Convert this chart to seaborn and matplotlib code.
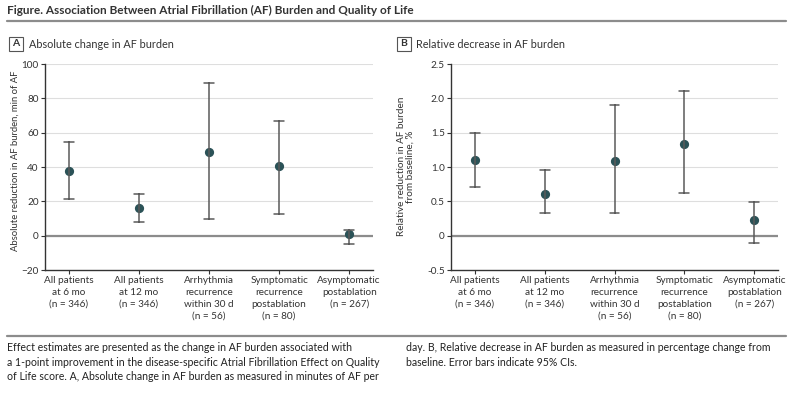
import numpy as np
import pandas as pd
import matplotlib
matplotlib.use("Agg")
import matplotlib.pyplot as plt
import seaborn as sns
from matplotlib.lines import Line2D
from matplotlib.patches import Rectangle

sns.set_style("white")
plt.rcParams['font.family'] = ['Liberation Sans Narrow', 'Lato', 'DejaVu Sans']

# datos
grupos = ["All patients\nat 6 mo\n(n = 346)", "All patients\nat 12 mo\n(n = 346)",
          "Arrhythmia\nrecurrence\nwithin 30 d\n(n = 56)",
          "Symptomatic\nrecurrence\npostablation\n(n = 80)",
          "Asymptomatic\npostablation\n(n = 267)"]

abs_est = [37.6, 16.0, 49.0, 40.3, 1.0]
abs_lo = [21.3, 7.9, 10.0, 12.5, -4.6]
abs_hi = [54.3, 24.5, 88.9, 66.8, 3.2]

rel_est = [1.095, 0.60, 1.086, 1.334, 0.226]
rel_lo = [0.716, 0.33, 0.33, 0.62, -0.11]
rel_hi = [1.50, 0.955, 1.90, 2.107, 0.497]

abs_ticks = [-20, 0, 20, 40, 60, 80, 100]
rel_ticks = [-0.5, 0, 0.5, 1.0, 1.5, 2.0, 2.5]
rel_ticklabels = ["-0.5", "0", "0.5", "1.0", "1.5", "2.0", "2.5"]


def tabla(est, lo, hi):
    # cada grupo: limite inferior, estimacion, limite superior
    filas = []
    for g, e, l, h in zip(grupos, est, lo, hi):
        for v in (l, e, h):
            filas.append({"grupo": g, "valor": v})
    return pd.DataFrame(filas)


fig = plt.figure(figsize=(7.92, 3.93), dpi=100)
W, H = 792, 393

def px_axes(x0, y0, x1, y1):
    return fig.add_axes([x0 / W, 1 - y1 / H, (x1 - x0) / W, (y1 - y0) / H])

axA = px_axes(45, 64, 373, 270)
axB = px_axes(451, 64, 778, 270)

marker_color = "#2b5257"
bar_color = "#5a5a5a"
txt = "#333333"

for ax, est, lo, hi, ticks in [(axA, abs_est, abs_lo, abs_hi, abs_ticks),
                               (axB, rel_est, rel_lo, rel_hi, rel_ticks)]:
    df = tabla(est, lo, hi)
    for t in ticks[1:]:
        ax.axhline(t, color="#dedede", lw=0.8, zorder=0)
    ax.axhline(0, color="#8c8c8c", lw=1.6, zorder=1)
    sns.pointplot(data=df, x="grupo", y="valor", order=grupos, estimator="median",
                  errorbar=("pi", 100), linestyle="none", capsize=0.14,
                  color=marker_color, markersize=4.6,
                  err_kws={"color": bar_color, "linewidth": 1.1}, ax=ax)
    ax.set_xlim(-0.34, 4.34)
    ax.set_ylim(ticks[0], ticks[-1])
    ax.set_yticks(ticks)
    ax.set_xticks(range(len(grupos)))
    ax.set_xticklabels(grupos, linespacing=1.4)
    ax.set_xlabel("")
    ax.set_ylabel("")
    for s in ["top", "right"]:
        ax.spines[s].set_visible(False)
    for s in ["left", "bottom"]:
        ax.spines[s].set_color(txt)
        ax.spines[s].set_linewidth(1.0)
    ax.tick_params(axis="both", which="both", length=3, width=0.8, color=txt,
                   labelsize=7.2, labelcolor=txt, pad=1.5, left=True, bottom=True)
    ax.grid(False)

axB.set_yticklabels(rel_ticklabels)

axA.set_ylabel("Absolute reduction in AF burden, min of AF", fontsize=6.8, color=txt)
axA.yaxis.set_label_coords(-0.078, 0.529)
axB.set_ylabel("Relative reduction in AF burden\nfrom baseline, %", fontsize=7.2,
               color=txt, linespacing=1.05)
axB.yaxis.set_label_coords(-0.11, 0.502)

# titulo y lineas
fig.text(7 / W, 1 - 10 / H, "Figure. Association Between Atrial Fibrillation (AF) Burden and Quality of Life",
         fontsize=8.45, fontweight="bold", color=txt, va="center", ha="left")
fig.add_artist(Line2D([7 / W, 786 / W], [1 - 21 / H, 1 - 21 / H], color="#8c8c8c", lw=1.6))
fig.add_artist(Line2D([7 / W, 786 / W], [1 - 336 / H, 1 - 336 / H], color="#8c8c8c", lw=1.6))

# etiquetas de panel
for x0, letra, texto in [(9, "A", "Absolute change in AF burden"),
                         (397, "B", "Relative decrease in AF burden")]:
    fig.add_artist(Rectangle((x0 / W, 1 - 51 / H), 13.5 / W, 14 / H, fill=False,
                             edgecolor="#555555", lw=0.8, transform=fig.transFigure))
    fig.text((x0 + 6.75) / W, 1 - 44 / H, letra, fontsize=7.5, fontweight="bold",
             color=txt, ha="center", va="center")
    fig.text((x0 + 19.5) / W, 1 - 44 / H, texto, fontsize=7.8, color=txt,
             ha="left", va="center")

# pie de figura
pie_izq = ("Effect estimates are presented as the change in AF burden associated with\n"
           "a 1-point improvement in the disease-specific Atrial Fibrillation Effect on Quality\n"
           "of Life score. A, Absolute change in AF burden as measured in minutes of AF per")
pie_der = ("day. B, Relative decrease in AF burden as measured in percentage change from\n"
           "baseline. Error bars indicate 95% CIs.")
fig.text(7 / W, 1 - 342 / H, pie_izq, fontsize=7.6, color="#222222", ha="left", va="top",
         linespacing=1.4)
fig.text(406 / W, 1 - 342 / H, pie_der, fontsize=7.6, color="#222222", ha="left", va="top",
         linespacing=1.4)

fig.savefig("out.png", dpi=100)
